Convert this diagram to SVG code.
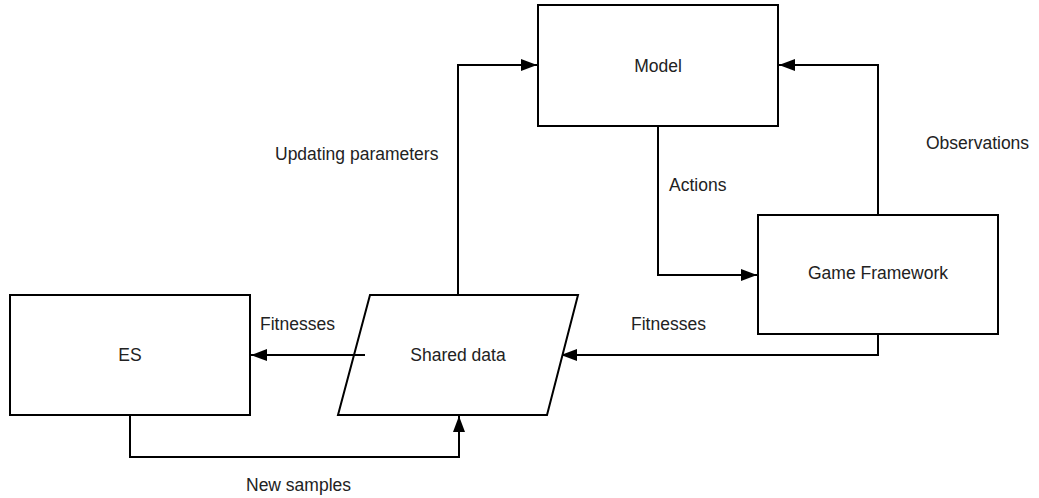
<svg xmlns="http://www.w3.org/2000/svg" width="1039" height="498" viewBox="0 0 1039 498">
<style>
.box{fill:#fff;stroke:#000;stroke-width:2}
.edge{fill:none;stroke:#000;stroke-width:2}
text{font-family:"Liberation Sans",Arial,sans-serif;font-size:17.5px;fill:#222}
.c{text-anchor:middle}
</style>
<defs>
<marker id="arr" markerUnits="userSpaceOnUse" markerWidth="18" markerHeight="14" refX="16" refY="6" orient="auto">
<path d="M0,0 L16,6 L0,12 z" fill="#000"/>
</marker>
</defs>
<rect width="1039" height="498" fill="#fff"/>
<g id="connectors">
<polyline class="edge" points="458,295 458,65 537,65" marker-end="url(#arr)"/>
<polyline class="edge" points="658,126 658,275 757,275" marker-end="url(#arr)"/>
<polyline class="edge" points="878,215 878,65 779,65" marker-end="url(#arr)"/>
<polyline class="edge" points="878,334 878,355 561,355" marker-end="url(#arr)"/>
<polyline class="edge" points="130,415 130,457 459,457 459,416" marker-end="url(#arr)"/>
</g>
<g id="model">
<rect class="box" x="538" y="5" width="240" height="121"/>
<text class="c" x="658" y="72">Model</text>
</g>
<g id="game-framework">
<rect class="box" x="758" y="215" width="240" height="119"/>
<text class="c" x="878" y="279">Game Framework</text>
</g>
<g id="es">
<rect class="box" x="10" y="295" width="240" height="120"/>
<text class="c" x="130" y="361">ES</text>
</g>
<g id="shared-data">
<polygon class="box" points="370,295 578,295 547,415 338,415"/>
<text class="c" x="458" y="361">Shared data</text>
</g>
<g id="shared-to-es">
<polyline class="edge" points="365,355 251,355" marker-end="url(#arr)"/>
</g>
<g id="labels">
<text x="275" y="160">Updating parameters</text>
<text x="669" y="191">Actions</text>
<text x="926" y="149">Observations</text>
<text x="260" y="330">Fitnesses</text>
<text x="631" y="330">Fitnesses</text>
<text x="246" y="491">New samples</text>
</g>
</svg>
